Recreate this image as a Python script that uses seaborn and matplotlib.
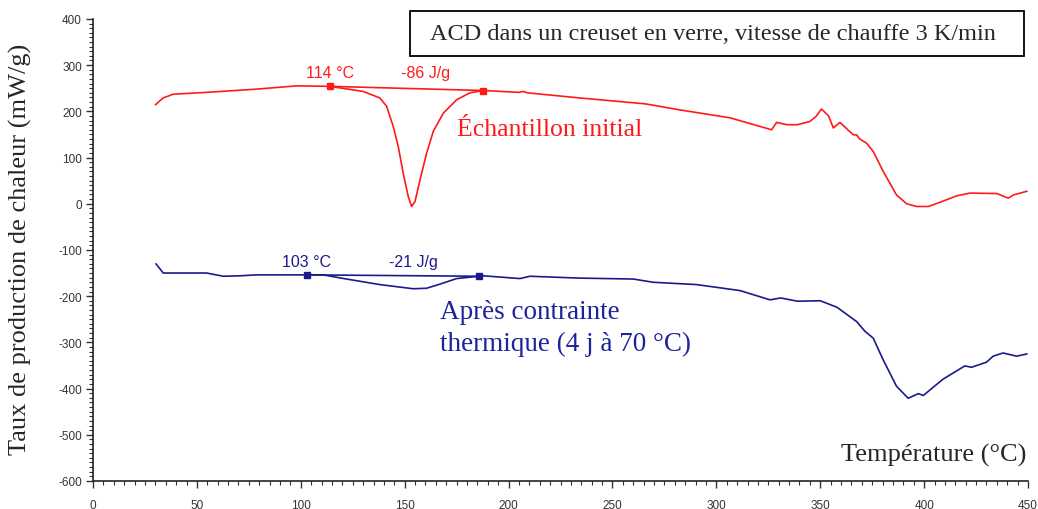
import pandas as pd
import matplotlib
matplotlib.use("Agg")
import matplotlib.pyplot as plt
from matplotlib.patches import Rectangle
from matplotlib.ticker import MultipleLocator
import seaborn as sns

# Courbe rouge : échantillon initial
temp_init = [30, 33.8, 38.6, 54.7, 78.7, 98, 114, 130, 138, 141.3, 144.5, 146.9, 149.3, 151.7,
             153.3, 155, 157.4, 160.6, 163.8, 168.6, 175, 181.4, 187.8, 205, 207, 209, 234, 266,
             282.5, 306.5, 326.6, 329, 334, 339, 345, 348, 350.6, 354, 356.3, 359.5, 363.5, 366,
             367.5, 369, 372.3, 375.5, 380.3, 386.7, 391.5, 396.4, 402, 407.6, 415.6, 422, 435,
             440.5, 443, 449.5]
flux_init = [214, 229, 237, 241, 248, 255, 254, 243, 229, 211, 167, 124, 66, 16,
             -6, 5, 52, 110, 157, 196, 225, 240, 245, 241, 243, 240, 229, 216,
             203, 186, 160, 176, 171, 171, 178, 189, 205, 190, 164, 176, 159, 149,
             149, 140, 131, 113, 70, 19, 0, -6, -6, 3, 17, 23, 22,
             12, 19, 27]

# Courbe bleue : après contrainte thermique
temp_stress = [30.3, 33.8, 43.5, 54.7, 62.7, 70.7, 78.7, 103, 110.8, 122, 138, 154, 160.5, 167,
               175, 187.8, 205.5, 210.3, 234, 260, 269.6, 290.4, 311.4, 325.8, 331, 339, 350,
               358, 367.5, 371.5, 375.5, 380.3, 386.7, 392.3, 397.2, 399.6, 409, 419.6, 422.8,
               430, 433.2, 438, 444.5, 449.5]
flux_stress = [-130, -150, -150, -150, -157, -156, -154, -154, -154, -163, -175, -184, -183, -174,
               -162, -156, -162, -157, -161, -163, -170, -175, -188, -208, -204, -211, -210,
               -224, -255, -276, -291, -338, -395, -421, -411, -415, -380, -351, -354,
               -343, -330, -323, -330, -325]

# Lignes de base d'intégration (début, fin)
base_init_t = [114, 187.8]
base_init_y = [254, 245]
base_stress_t = [103, 186]
base_stress_y = [-154, -157]

red = "#ff1a1a"
blue = "#1a1a8c"

df = pd.concat([
    pd.DataFrame({"T": temp_init, "flux": flux_init, "serie": "init"}),
    pd.DataFrame({"T": temp_stress, "flux": flux_stress, "serie": "stress"}),
])

sns.set_style("ticks")
plt.rcParams["font.family"] = ["Liberation Sans", "DejaVu Sans"]
plt.rcParams["axes.unicode_minus"] = False

fig = plt.figure(figsize=(10.38, 5.10), dpi=100)
ax = fig.add_axes([0.0896, 0.055, 0.9008, 0.906])

sns.lineplot(data=df, x="T", y="flux", hue="serie", palette={"init": red, "stress": blue},
             sort=False, estimator=None, linewidth=1.2, legend=False, ax=ax)

ax.plot(base_init_t, base_init_y, color=red, lw=1.2, marker="s", ms=4)
ax.plot(base_stress_t, base_stress_y, color=blue, lw=1.2, marker="s", ms=4)

ax.set_xlim(0, 450)
ax.set_ylim(-600, 400)
ax.xaxis.set_major_locator(MultipleLocator(50))
ax.xaxis.set_minor_locator(MultipleLocator(5))
ax.yaxis.set_major_locator(MultipleLocator(100))
ax.yaxis.set_minor_locator(MultipleLocator(10))
ax.tick_params(which="major", length=5, width=1, labelsize=8.5, colors="#333333", pad=3)
ax.tick_params(which="minor", length=3, width=0.8, color="#333333")
ax.tick_params(axis="x", pad=8)
sns.despine(ax=ax)
for s in ("left", "bottom"):
    ax.spines[s].set_linewidth(1.2)
    ax.spines[s].set_color("#222222")
ax.set_xlabel("")
ax.set_ylabel("")

serif = ["Liberation Serif", "DejaVu Serif"]
fig.text(0.02, 0.512, "Taux de production de chaleur (mW/g)", rotation=90, va="center", ha="center",
         family=serif, fontsize=19)
ax.text(449, -543, "Température (°C)", ha="right", va="center", family=serif, fontsize=19)

ax.text(114, 283, "114 °C", color=red, ha="center", va="center", fontsize=11.5)
ax.text(160, 283, "-86 J/g", color=red, ha="center", va="center", fontsize=11.5)
ax.text(175, 162, "Échantillon initial", color=red, ha="left", va="center", family=serif, fontsize=18.5)

ax.text(103, -125, "103 °C", color=blue, ha="center", va="center", fontsize=11.5)
ax.text(154, -125, "-21 J/g", color=blue, ha="center", va="center", fontsize=11.5)
ax.text(167, -268, "Après contrainte\nthermique (4 j à 70 °C)", color="#1f2399", ha="left", va="center",
        family=serif, fontsize=19.5, linespacing=1.35)

ax.add_patch(Rectangle((0.339, 0.92), 0.657, 0.097, transform=ax.transAxes, fill=False,
                       ec="black", lw=1.3, clip_on=False))
ax.text(0.3604, 0.968, "ACD dans un creuset en verre, vitesse de chauffe 3 K/min", transform=ax.transAxes,
        ha="left", va="center", family=serif, fontsize=17.5)

fig.savefig("out.png", dpi=100)
